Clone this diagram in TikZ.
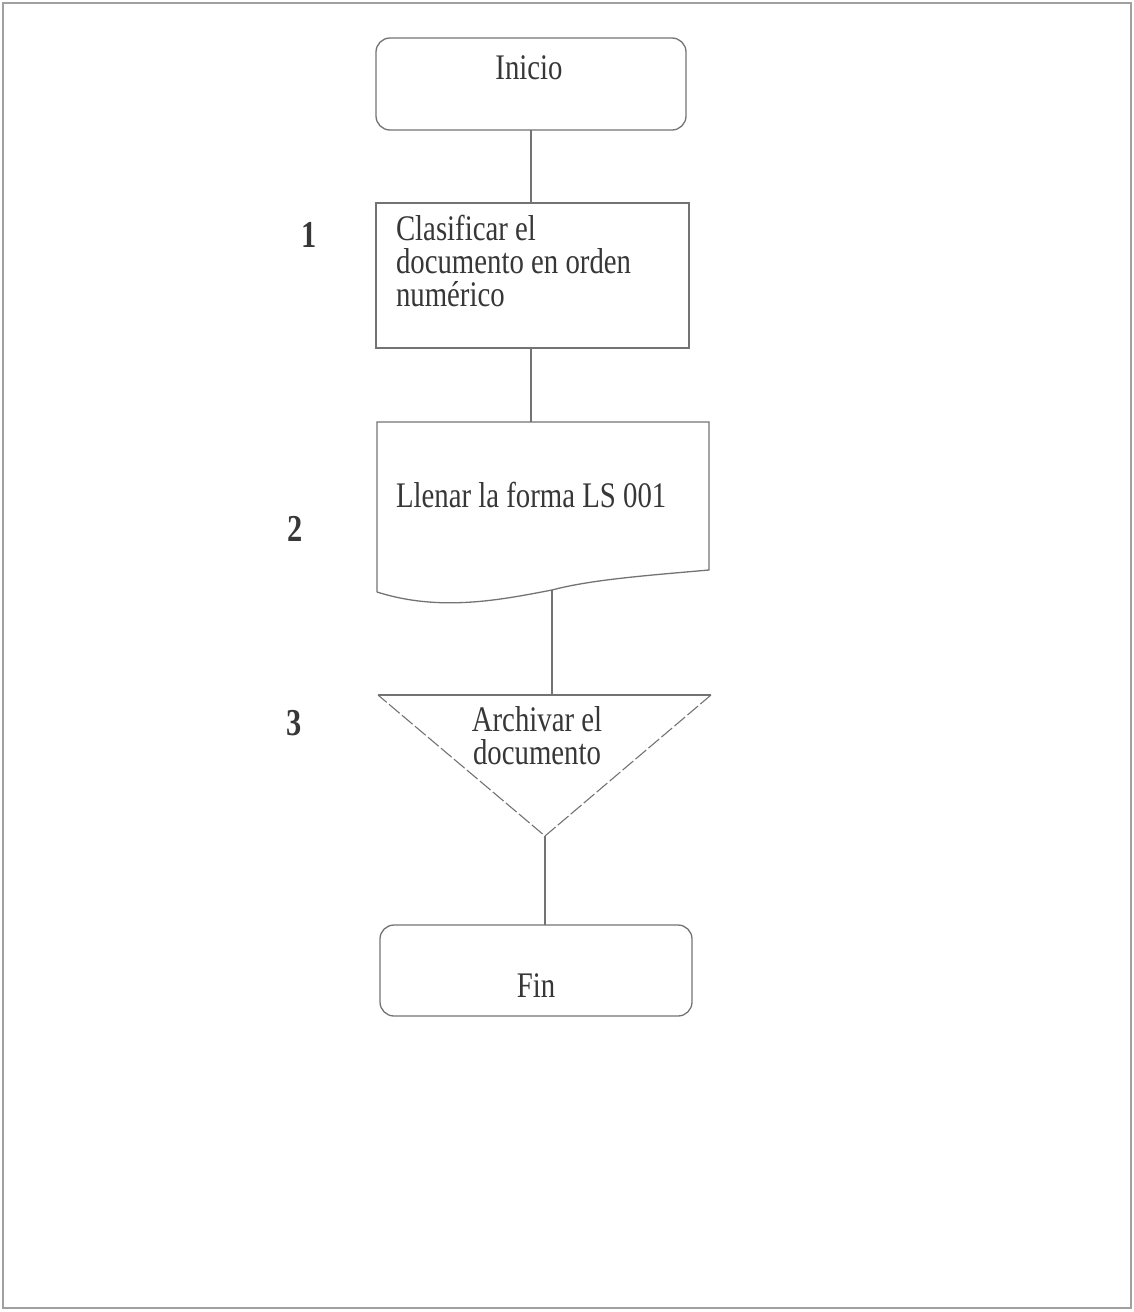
\documentclass[tikz,border=0pt]{standalone}
\usepackage{fontspec}
\setmainfont{Liberation Serif}[FakeStretch=0.8]
\usetikzlibrary{shapes.geometric}
\definecolor{linegray}{RGB}{115,115,115}
\definecolor{txtgray}{RGB}{55,55,55}
\definecolor{framegray}{RGB}{160,160,160}
\begin{document}
\begin{tikzpicture}[x=1pt,y=-1pt,
  every node/.style={inner sep=0pt,outer sep=0pt,text=txtgray},
  shp/.style={draw=linegray,line width=1.3pt},
  conn/.style={draw=linegray,line width=1.3pt},
  lbl/.style={font=\fontsize{36}{33}\selectfont},
  num/.style={font=\fontsize{38}{40}\selectfont\bfseries},
]
\useasboundingbox (0,0) rectangle (1134,1312);
\draw[framegray,line width=1.2pt] (3,3) rectangle (1131,1308);

% Inicio
\node[shp,rectangle,rounded corners=14pt,minimum width=310pt,minimum height=92pt] (inicio) at (531,84) {};
\node[lbl,anchor=base] (inicioT) at (529,79) {Inicio};

% Step 1
\node[shp,rectangle,minimum width=313pt,minimum height=145pt] (clas) at (532.5,275.5) {};
\node[lbl,anchor=north west,align=left] (clasT) at (396,215) {Clasificar el\\documento en orden\\numérico};
\node[num,anchor=base] (n1) at (309,247) {1};

% Step 2: document shape
\coordinate (dtl) at (377,422);
\coordinate (dtr) at (709,422);
\coordinate (dbr) at (709,570);
\coordinate (dbl) at (377,592);
\coordinate (dbot) at (552,590);
\draw[shp] (dbl) -- (dtl) -- (dtr) -- (dbr)
  .. controls (640,576) and (590,580) .. (dbot)
  .. controls (500,600) and (440,612) .. (dbl);
\coordinate (dtop) at (531,422);
\node[lbl,anchor=base west] (llenT) at (396,507) {Llenar la forma LS 001};
\node[num,anchor=base] (n2) at (295,541) {2};

% Step 3: archive triangle
\coordinate (ttl) at (378,695);
\coordinate (ttr) at (711,695);
\coordinate (tapex) at (545,836);
\coordinate (ttop) at (552,695);
\draw[shp] (ttl) -- (ttr);
\draw[linegray,line width=1.1pt,dashed,dash pattern=on 14pt off 3pt] (ttr) -- (tapex) -- (ttl);
\node[lbl,anchor=north,align=center] (archT) at (537,707) {Archivar el\\documento};
\node[num,anchor=base] (n3) at (294,735) {3};

% Fin
\node[shp,rectangle,rounded corners=14pt,minimum width=312pt,minimum height=91pt] (fin) at (536,970.5) {};
\node[lbl,anchor=base] (finT) at (536,997) {Fin};

% connectors
\draw[conn] (inicio.south) -- (inicio.south |- clas.north);
\draw[conn] (inicio.south |- clas.south) -- (dtop);
\draw[conn] (dbot) -- (ttop);
\draw[conn] (tapex) -- (tapex |- fin.north);
\end{tikzpicture}
\end{document}
